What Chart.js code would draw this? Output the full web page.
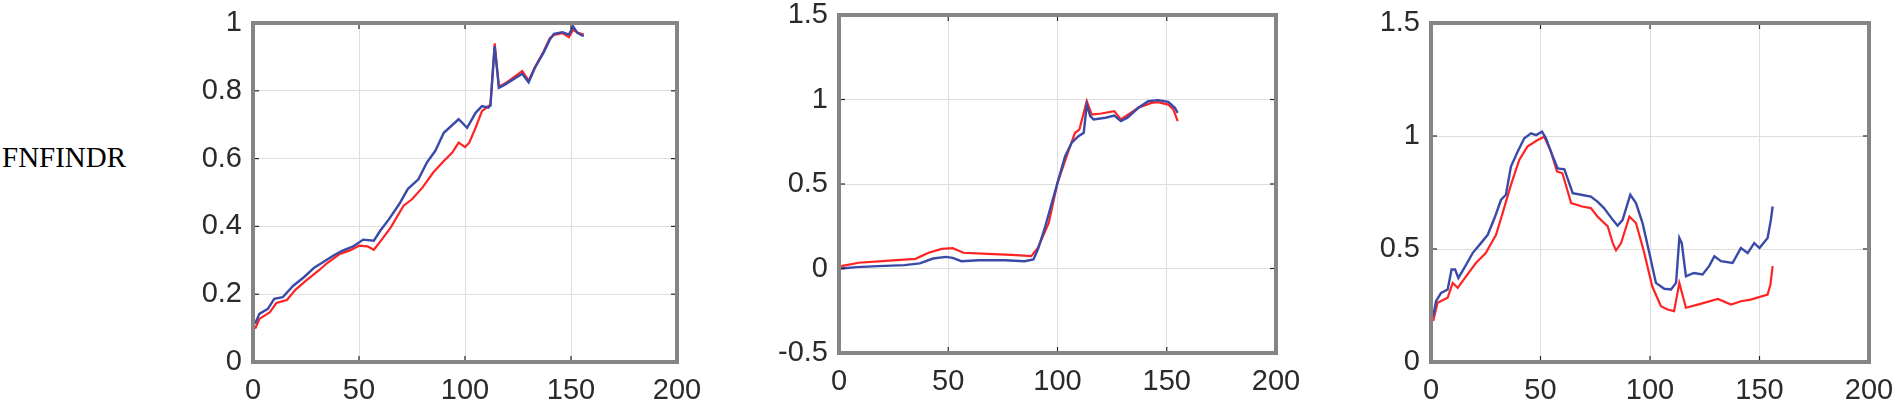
<!DOCTYPE html>
<html><head><meta charset="utf-8">
<script src="https://cdn.jsdelivr.net/npm/chart.js@4.4.0/dist/chart.umd.min.js"></script>
<style>
html,body{margin:0;padding:0;background:#fff;width:1898px;height:409px;overflow:hidden}
canvas{position:absolute;left:0;top:0}
#lbl{position:absolute;left:2px;top:143px;font-family:"Liberation Serif",serif;font-size:29px;line-height:29px;color:#000;white-space:nowrap}
</style></head><body>
<div id="lbl">FNFINDR</div>
<canvas id="c1" width="1898" height="409"></canvas>
<canvas id="c2" width="1898" height="409"></canvas>
<canvas id="c3" width="1898" height="409"></canvas>
<script>
// ---- data ----
const xTicks = [0, 50, 100, 150, 200];

const p1BlueX = [1,3,7,10,14,19,24,29,33,38,42,47,52,57,60,64,69,73,78,82,86,90,97,101,105,108,111,112,114,116,119,127,130,133,137,140,142,146,149,151,153,156];
const p1BlueY = [0.113,0.142,0.157,0.186,0.191,0.225,0.25,0.279,0.294,0.314,0.328,0.34,0.361,0.358,0.387,0.42,0.466,0.51,0.539,0.588,0.623,0.676,0.716,0.691,0.735,0.755,0.75,0.757,0.931,0.809,0.819,0.85,0.825,0.868,0.912,0.951,0.968,0.973,0.966,0.99,0.971,0.961];
const p1RedX = [1,3,8,11,16,20,25,31,35,41,46,50,54,57,61,65,71,75,80,85,90,94,97,100,102,105,108,111,112,114,116,119,127,130,133,137,140,142,146,149,151,153,156];
const p1RedY = [0.098,0.127,0.147,0.174,0.183,0.213,0.24,0.27,0.292,0.319,0.33,0.343,0.341,0.331,0.363,0.397,0.461,0.48,0.515,0.559,0.593,0.618,0.647,0.634,0.647,0.691,0.74,0.755,0.757,0.94,0.812,0.822,0.858,0.83,0.87,0.915,0.955,0.965,0.97,0.958,0.98,0.972,0.966];

const p2BlueX = [1,8,18,30,37,43,49,52,56,64,76,85,89,91,94,97,100,103.5,106.5,109.6,112,113.4,115,116.5,122,126,129,132,137,141.5,146,150.7,153.7,155];
const p2BlueY = [0.0,0.008,0.014,0.02,0.03,0.059,0.069,0.063,0.043,0.049,0.049,0.043,0.053,0.112,0.231,0.369,0.507,0.665,0.744,0.783,0.803,0.97,0.901,0.882,0.892,0.905,0.872,0.892,0.951,0.99,0.996,0.986,0.951,0.921];
const p2RedX = [1,9,23,35,41,47,52,57,68,79,88,91,96,100,105,108,110,113.4,115.7,120,126,129,137,143,146,150.7,153,155];
const p2RedY = [0.014,0.034,0.047,0.057,0.093,0.116,0.12,0.093,0.087,0.081,0.073,0.122,0.27,0.507,0.694,0.803,0.822,0.99,0.911,0.917,0.931,0.882,0.951,0.98,0.984,0.97,0.941,0.872];

const p3BlueX = [1,2.3,4.6,7.6,9.4,11,12.5,15.2,19,22.8,25.9,29,32,34.2,36.5,39.6,42.6,45.7,48,50.7,52.5,55.6,57.8,60.9,64.7,68.5,73,76,79,83,85.2,87.5,91,93.6,96.6,99.7,102.7,106.5,109.6,111.9,113.4,114.5,116.4,120,124,127,129.4,132.4,137.7,141.5,144.6,147.6,150,153.7,155.2,156];
const p3BlueY = [0.203,0.269,0.306,0.321,0.409,0.409,0.372,0.416,0.482,0.526,0.563,0.637,0.718,0.74,0.865,0.931,0.99,1.012,1.004,1.019,0.99,0.909,0.857,0.853,0.747,0.74,0.732,0.71,0.681,0.629,0.603,0.629,0.74,0.703,0.615,0.482,0.35,0.324,0.321,0.35,0.549,0.526,0.379,0.394,0.387,0.424,0.468,0.446,0.438,0.504,0.482,0.526,0.504,0.549,0.629,0.688];
const p3RedX = [1,3,7.6,9.9,12.2,16,20.5,25,29.7,32.7,36.5,40.3,44,48.7,51.7,54.8,57.5,60,64,69,73,76,80.7,83,84.5,86.8,90.6,93.6,97.4,101,105,108,111,113.4,116.4,121.8,131,137,141.5,146,153.7,155,156];
const p3RedY = [0.181,0.262,0.284,0.35,0.328,0.379,0.438,0.482,0.563,0.659,0.784,0.894,0.953,0.982,0.997,0.931,0.843,0.835,0.703,0.688,0.681,0.644,0.6,0.526,0.494,0.526,0.644,0.615,0.482,0.335,0.247,0.232,0.225,0.35,0.24,0.254,0.279,0.254,0.269,0.276,0.298,0.343,0.424];

const p1YTicks = {min: 0, max: 1, step: 0.2};
const p2YTicks = {min: -0.5, max: 1.5, step: 0.5};
const p3YTicks = {min: 0, max: 1.5, step: 0.5};

// ---- layout & style ----
const W = 1898, H = 409, YAXW = 90;
const BLUE = '#3a4aa8', RED = '#ff2424';
const boxes = [
  {id:'c1', L:253, R:677, T:23, B:362},
  {id:'c2', L:839, R:1276, T:15, B:353},
  {id:'c3', L:1431, R:1869, T:23, B:362}
];

const pts = (xs, ys) => xs.map((x, i) => ({x, y: ys[i]}));

const framePlugin = {
  id: 'frame',
  afterDatasetsDraw(chart) {
    const {ctx, chartArea: a, scales: {x, y}} = chart;
    ctx.save();
    ctx.strokeStyle = '#262626';
    ctx.lineWidth = 1.2;
    const seg = (x1, y1, x2, y2) => { ctx.beginPath(); ctx.moveTo(x1, y1); ctx.lineTo(x2, y2); ctx.stroke(); };
    x.ticks.forEach(t => {
      const p = x.getPixelForValue(t.value);
      seg(p, a.bottom, p, a.bottom - 6);
      seg(p, a.top, p, a.top + 6);
    });
    y.ticks.forEach(t => {
      const p = y.getPixelForValue(t.value);
      seg(a.left, p, a.left + 6, p);
      seg(a.right, p, a.right - 6, p);
    });
    ctx.strokeStyle = '#858585';
    ctx.lineWidth = 4;
    ctx.strokeRect(a.left, a.top, a.right - a.left, a.bottom - a.top);
    ctx.restore();
  }
};

const tickFont = {family: '"Liberation Sans", Arial, sans-serif', size: 29, lineHeight: 1};
const fmt = v => String(+(+v).toFixed(2));

function makeChart(box, blue, red, yt) {
  new Chart(document.getElementById(box.id), {
    type: 'line',
    data: {
      datasets: [
        {data: blue, borderColor: BLUE, borderWidth: 2.4, pointRadius: 0, tension: 0, fill: false},
        {data: red, borderColor: RED, borderWidth: 2.2, pointRadius: 0, tension: 0, fill: false}
      ]
    },
    options: {
      responsive: false, animation: false, parsing: true,
      layout: {padding: {left: box.L - YAXW, right: W - box.R, top: box.T, bottom: 0}},
      plugins: {legend: {display: false}, tooltip: {enabled: false}},
      scales: {
        x: {
          type: 'linear', min: 0, max: 200,
          afterBuildTicks: s => { s.ticks = xTicks.map(v => ({value: v})); },
          ticks: {font: tickFont, color: '#2a2a2a', padding: 14, maxRotation: 0, autoSkip: false, callback: fmt},
          grid: {color: '#dedede', lineWidth: 1, drawTicks: false},
          border: {display: false},
          afterFit: s => { s.height = H - box.B; s.paddingLeft = 0; s.paddingRight = 0; }
        },
        y: {
          type: 'linear', min: yt.min, max: yt.max,
          ticks: {stepSize: yt.step, font: tickFont, color: '#2a2a2a', padding: 11, autoSkip: false, callback: fmt},
          grid: {color: '#dedede', lineWidth: 1, drawTicks: false},
          border: {display: false},
          afterFit: s => { s.width = YAXW; s.paddingTop = 0; s.paddingBottom = 0; }
        }
      }
    },
    plugins: [framePlugin]
  });
}

makeChart(boxes[0], pts(p1BlueX, p1BlueY), pts(p1RedX, p1RedY), p1YTicks);
makeChart(boxes[1], pts(p2BlueX, p2BlueY), pts(p2RedX, p2RedY), p2YTicks);
makeChart(boxes[2], pts(p3BlueX, p3BlueY), pts(p3RedX, p3RedY), p3YTicks);
</script>
</body></html>
